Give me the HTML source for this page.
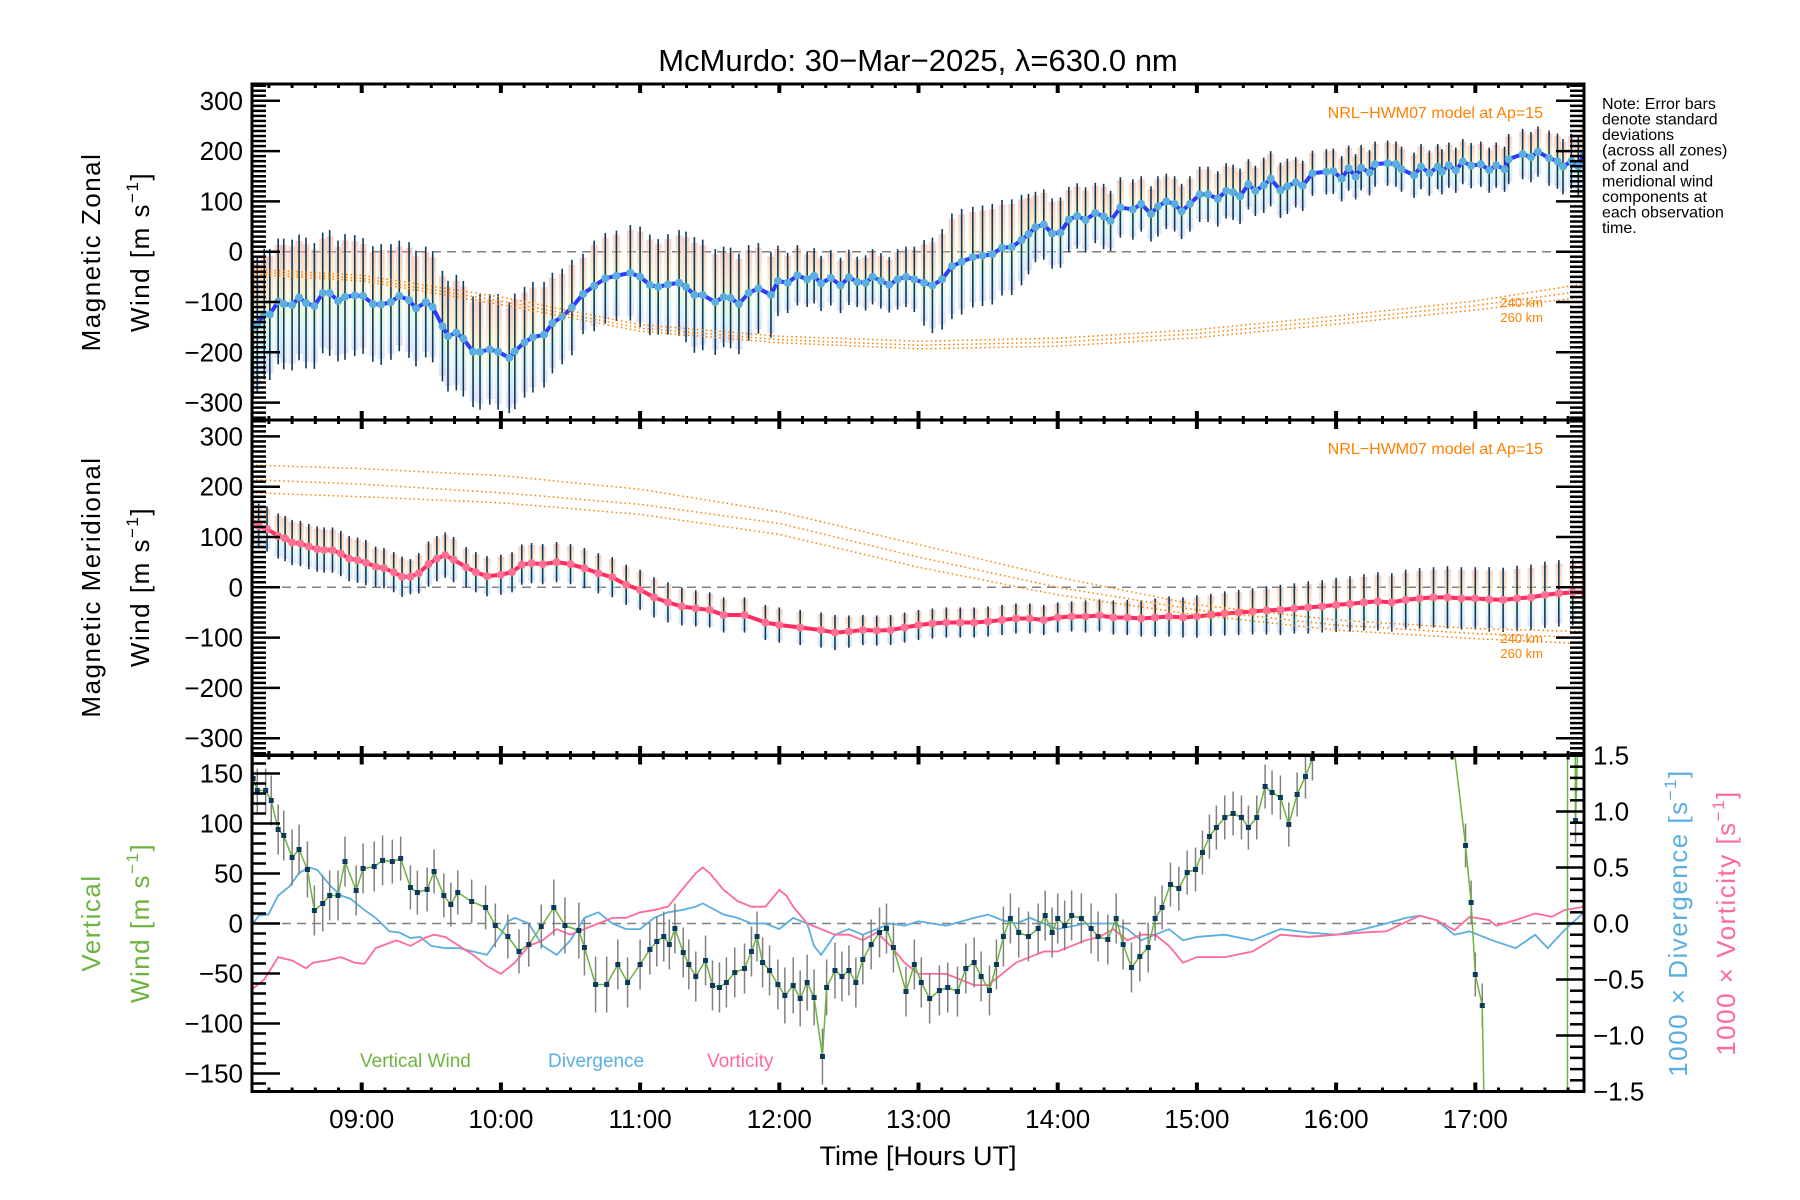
<!DOCTYPE html>
<html><head><meta charset="utf-8"><title>McMurdo winds</title>
<style>
html,body{margin:0;padding:0;background:#fff;width:1800px;height:1200px;overflow:hidden;}
svg{display:block;font-family:"Liberation Sans",sans-serif;}
</style></head>
<body>
<svg id="chart" xmlns="http://www.w3.org/2000/svg" width="1800" height="1200" viewBox="0 0 1800 1200">
<defs>
<linearGradient id="zoneGrad" x1="0" y1="0" x2="0" y2="1">
<stop offset="0" stop-color="#f7a58f"/><stop offset="0.35" stop-color="#fbd99a"/><stop offset="0.55" stop-color="#d8f2b8"/><stop offset="0.75" stop-color="#bfeaf0"/><stop offset="1" stop-color="#c4c2f0"/>
</linearGradient>
<clipPath id="clip1"><rect x="252" y="84" width="1332" height="336"/></clipPath>
<clipPath id="clip2"><rect x="252" y="420" width="1332" height="335"/></clipPath>
<clipPath id="clip3"><rect x="252" y="755.5" width="1332" height="336"/></clipPath>
</defs>
<text x="918" y="71" font-size="31" text-anchor="middle">McMurdo: 30−Mar−2025, λ=630.0 nm</text>
<g id="layer"></g>
<text font-size="16" x="1602">
<tspan x="1602" y="109">Note: Error bars</tspan><tspan x="1602" y="124.5">denote standard</tspan><tspan x="1602" y="140">deviations</tspan><tspan x="1602" y="155.5">(across all zones)</tspan><tspan x="1602" y="171">of zonal and</tspan><tspan x="1602" y="186.5">meridional wind</tspan><tspan x="1602" y="202">components at</tspan><tspan x="1602" y="217.5">each observation</tspan><tspan x="1602" y="233">time.</tspan>
</text>
</svg>
<script>
// ---------- data ----------
const hourTicks = [9,10,11,12,13,14,15,16,17];
const hourLabels = ["09:00","10:00","11:00","12:00","13:00","14:00","15:00","16:00","17:00"];
const windTicks = [-300,-200,-100,0,100,200,300];
const vertTicks = [-150,-100,-50,0,50,100,150];
const ratioTicks = [-1.5,-1.0,-0.5,0.0,0.5,1.0,1.5];

const zonalTimes = [8.22,8.25,8.30,8.34,8.40,8.44,8.50,8.55,8.60,8.66,8.72,8.77,8.83,8.88,8.95,9.01,9.08,9.14,9.21,9.27,9.34,9.39,9.46,9.51,9.58,9.62,9.68,9.73,9.80,9.85,9.92,9.98,10.06,10.10,10.17,10.23,10.31,10.37,10.44,10.51,10.59,10.67,10.75,10.83,10.93,11.00,11.07,11.13,11.20,11.28,11.33,11.39,11.45,11.54,11.60,11.65,11.71,11.78,11.85,11.94,11.99,12.06,12.13,12.20,12.25,12.30,12.37,12.44,12.50,12.56,12.62,12.67,12.73,12.79,12.85,12.91,12.97,13.04,13.10,13.17,13.24,13.31,13.39,13.46,13.53,13.60,13.67,13.74,13.79,13.84,13.90,13.96,14.02,14.08,14.14,14.20,14.27,14.33,14.38,14.45,14.54,14.60,14.67,14.72,14.78,14.84,14.89,14.95,15.02,15.08,15.15,15.21,15.26,15.31,15.37,15.42,15.48,15.53,15.60,15.65,15.71,15.76,15.83,15.93,15.98,16.04,16.09,16.14,16.18,16.24,16.28,16.37,16.43,16.47,16.56,16.61,16.67,16.73,16.76,16.81,16.86,16.91,16.97,17.04,17.10,17.15,17.21,17.24,17.34,17.40,17.45,17.53,17.59,17.63,17.69,17.74,17.78];
const zonalWind = [-149,-144,-124,-125,-99,-104,-106,-91,-102,-108,-82,-82,-98,-90,-87,-88,-104,-105,-100,-88,-96,-113,-100,-110,-148,-168,-161,-173,-199,-199,-194,-199,-211,-198,-180,-170,-165,-142,-129,-111,-84,-68,-53,-48,-42,-50,-66,-70,-65,-62,-70,-86,-86,-100,-90,-92,-104,-82,-73,-86,-58,-62,-47,-55,-48,-63,-52,-67,-51,-60,-62,-50,-58,-66,-55,-50,-55,-62,-67,-55,-29,-20,-11,-8,-5,8,9,23,35,49,54,36,38,64,71,63,77,70,61,88,84,95,75,90,100,95,80,95,114,114,105,121,118,110,134,121,132,145,122,130,138,131,156,159,160,145,166,149,167,157,174,176,174,164,152,169,156,169,159,172,162,179,171,174,162,172,164,184,194,188,199,186,180,169,180,170,195];
const zonalErr = [140,135,130,130,125,130,130,125,130,125,120,125,120,125,120,115,115,120,115,110,115,115,110,110,110,110,115,115,110,115,110,115,110,115,110,110,105,100,95,95,80,90,90,90,95,100,100,95,100,105,110,115,110,105,100,100,100,95,90,85,70,60,60,55,55,55,55,55,55,50,55,55,55,55,60,60,65,85,95,100,105,105,100,100,100,95,95,90,80,70,70,70,70,65,65,65,60,65,60,60,60,55,55,60,55,55,55,55,55,55,55,55,55,55,50,50,55,55,55,55,50,50,45,45,45,45,45,45,45,45,45,45,45,45,45,45,45,45,45,45,45,45,45,45,45,45,45,50,50,50,50,55,55,55,55,60,60,60];

const meridTimes = [8.22,8.26,8.32,8.40,8.45,8.50,8.56,8.62,8.68,8.73,8.79,8.85,8.91,8.97,9.03,9.10,9.16,9.23,9.29,9.35,9.41,9.48,9.54,9.60,9.66,9.75,9.82,9.90,10.00,10.08,10.15,10.22,10.30,10.40,10.50,10.60,10.70,10.80,10.90,11.00,11.10,11.20,11.30,11.40,11.50,11.60,11.75,11.90,12.00,12.15,12.30,12.40,12.50,12.60,12.70,12.80,12.90,13.00,13.10,13.20,13.30,13.40,13.50,13.60,13.70,13.80,13.90,14.00,14.10,14.20,14.30,14.40,14.50,14.60,14.70,14.80,14.90,15.00,15.10,15.20,15.30,15.40,15.50,15.60,15.70,15.80,15.90,16.00,16.10,16.20,16.30,16.40,16.50,16.60,16.70,16.80,16.90,17.00,17.10,17.20,17.30,17.40,17.50,17.60,17.70,17.78];
const meridWind = [127,122,116,102,97,89,87,81,76,74,74,67,57,54,49,41,38,30,21,21,28,46,57,64,55,40,30,22,25,30,45,48,46,50,46,38,28,20,5,-5,-20,-30,-38,-42,-45,-55,-55,-70,-75,-80,-85,-90,-88,-85,-86,-85,-80,-75,-72,-70,-70,-70,-68,-65,-62,-62,-65,-60,-58,-58,-56,-60,-60,-62,-60,-58,-60,-58,-55,-52,-50,-48,-46,-45,-42,-40,-38,-35,-33,-30,-28,-30,-25,-22,-20,-20,-22,-22,-24,-25,-22,-20,-15,-12,-10,-10];
const meridErr = [45,45,45,45,45,45,45,45,45,45,45,45,45,45,45,40,40,40,40,35,40,45,45,45,45,40,40,40,40,40,40,40,40,40,40,40,40,40,40,40,40,40,38,36,35,35,35,35,35,35,35,35,32,30,30,30,30,30,30,30,30,30,30,30,30,30,30,30,30,32,32,34,35,36,38,40,40,42,42,44,45,46,48,50,50,52,52,54,55,56,58,58,60,60,60,62,62,62,64,64,65,65,66,66,66,66];

const modelTimes = [8.21,9,10,11,12,13,14,15,16,17,17.78];
const zonalModelA = [-35,-47,-90,-145,-168,-178,-172,-155,-128,-98,-64];
const zonalModelB = [-40,-53,-98,-152,-175,-186,-180,-163,-136,-107,-78];
const zonalModelC = [-45,-58,-105,-158,-181,-193,-188,-171,-144,-116,-90];
const meridModelA = [243,236,222,195,150,85,20,-35,-65,-82,-88];
const meridModelB = [214,205,188,165,127,60,0,-45,-75,-92,-100];
const meridModelC = [188,180,168,145,105,40,-15,-55,-85,-102,-112];

const vertTimes = [8.22,8.25,8.31,8.35,8.40,8.44,8.50,8.55,8.61,8.66,8.72,8.77,8.83,8.88,8.96,9.01,9.09,9.15,9.22,9.28,9.35,9.40,9.47,9.52,9.59,9.64,9.69,9.79,9.89,9.96,10.05,10.13,10.20,10.29,10.38,10.46,10.56,10.60,10.68,10.76,10.84,10.91,11.00,11.07,11.12,11.17,11.21,11.25,11.31,11.35,11.40,11.47,11.52,11.57,11.62,11.68,11.75,11.80,11.84,11.88,11.93,11.99,12.04,12.10,12.15,12.20,12.25,12.31,12.34,12.40,12.45,12.50,12.55,12.60,12.66,12.72,12.77,12.82,12.91,12.97,13.02,13.08,13.15,13.21,13.28,13.34,13.40,13.45,13.51,13.56,13.61,13.66,13.72,13.79,13.86,13.91,13.96,14.00,14.05,14.10,14.17,14.24,14.29,14.36,14.42,14.47,14.53,14.59,14.65,14.70,14.75,14.81,14.87,14.93,14.99,15.04,15.09,15.14,15.20,15.26,15.32,15.37,15.43,15.49,15.54,15.60,15.66,15.72,15.78,15.83,16.40,16.93,16.97,17.00,17.05,17.30,17.66,17.665,17.72,17.78];
const vertWind = [145,133,133,123,94,88,66,74,54,13,20,28,28,62,33,55,57,63,62,65,36,31,34,52,28,19,31,22,16,-2,-13,-28,-21,-3,16,-2,-7,-24,-61,-61,-41,-59,-41,-26,-18,-13,-21,-5,-29,-41,-53,-37,-62,-64,-59,-49,-45,-28,-13,-39,-47,-61,-72,-62,-75,-59,-74,-133,-64,-47,-53,-47,-59,-36,-21,-9,-5,-24,-68,-41,-59,-75,-67,-64,-68,-45,-39,-53,-67,-41,-13,5,-9,-13,-5,8,-9,5,-2,8,5,-5,-13,-16,5,-21,-44,-33,-24,5,16,39,35,51,54,71,87,96,106,110,106,96,106,137,131,126,99,129,147,165,700,78,21,-51,-82,-2000,-2000,2000,103,400];
const vertErr = [25,22,22,25,25,25,28,25,28,25,28,25,25,25,25,25,25,25,22,22,22,22,22,22,22,22,22,22,22,22,22,22,22,22,28,28,28,28,28,28,25,25,25,25,25,25,25,25,25,25,25,25,25,25,25,25,25,25,25,25,25,25,28,28,28,28,28,28,28,28,25,25,25,25,25,25,25,25,25,25,25,25,25,25,25,25,25,25,25,25,30,25,25,25,25,25,25,25,25,25,25,25,25,25,25,25,25,25,25,22,22,22,22,22,22,22,22,22,22,22,22,22,22,22,22,22,22,22,22,22,0,22,22,22,22,0,0,0,22,0];

const divTimes = [8.22,8.26,8.33,8.40,8.48,8.55,8.62,8.68,8.78,8.85,8.92,9.02,9.10,9.20,9.27,9.35,9.42,9.50,9.60,9.70,9.80,9.90,10.00,10.05,10.10,10.20,10.30,10.40,10.50,10.60,10.70,10.80,10.90,11.00,11.10,11.20,11.30,11.40,11.45,11.60,11.70,11.80,11.90,12.00,12.10,12.20,12.25,12.30,12.40,12.50,12.60,12.70,12.80,12.90,13.00,13.20,13.40,13.50,13.60,13.70,13.80,13.90,14.00,14.20,14.40,14.50,14.60,14.70,14.80,14.90,15.00,15.20,15.40,15.50,15.60,15.80,16.00,16.20,16.36,16.50,16.60,16.72,16.85,16.96,17.12,17.29,17.43,17.52,17.64,17.78];
const divergence = [0.0,0.07,0.08,0.25,0.33,0.45,0.50,0.48,0.33,0.25,0.22,0.12,0.05,-0.07,-0.08,-0.13,-0.12,-0.2,-0.22,-0.22,-0.25,-0.28,-0.1,0.02,0.05,0.0,-0.2,-0.28,-0.15,0.05,0.1,0.0,-0.05,-0.05,0.05,0.1,0.12,0.15,0.18,0.08,0.05,0.0,0.0,-0.05,0.05,0.0,-0.2,-0.28,-0.1,-0.05,-0.1,-0.05,0.0,-0.02,0.02,-0.02,0.05,0.08,0.03,0.0,0.05,0.0,-0.05,0.0,0.0,-0.05,-0.15,-0.1,-0.05,-0.15,-0.12,-0.1,-0.15,-0.1,-0.05,-0.08,-0.1,-0.05,0.0,0.05,0.07,0.03,-0.1,-0.07,-0.15,-0.22,-0.1,-0.22,-0.06,0.1];
const vortTimes = [8.22,8.30,8.40,8.50,8.60,8.65,8.75,8.85,8.95,9.02,9.10,9.25,9.35,9.45,9.52,9.60,9.70,9.80,9.90,10.00,10.10,10.20,10.30,10.40,10.50,10.60,10.70,10.80,10.90,11.00,11.10,11.20,11.30,11.40,11.45,11.50,11.60,11.70,11.80,11.90,12.00,12.05,12.10,12.20,12.30,12.40,12.50,12.60,12.70,12.80,12.90,13.00,13.20,13.30,13.40,13.50,13.60,13.70,13.80,13.90,14.00,14.10,14.20,14.30,14.40,14.50,14.60,14.70,14.80,14.90,15.00,15.20,15.40,15.60,15.80,16.00,16.20,16.36,16.60,16.72,16.85,16.96,17.10,17.15,17.29,17.43,17.55,17.64,17.78];
const vorticity = [-0.58,-0.5,-0.3,-0.33,-0.4,-0.35,-0.33,-0.3,-0.35,-0.36,-0.22,-0.15,-0.2,-0.13,-0.1,-0.12,-0.2,-0.28,-0.38,-0.45,-0.35,-0.2,-0.15,-0.05,-0.1,-0.05,0.0,0.05,0.05,0.1,0.12,0.15,0.3,0.45,0.5,0.45,0.3,0.2,0.15,0.15,0.3,0.25,0.15,0.0,-0.05,-0.1,-0.1,-0.15,-0.08,-0.2,-0.35,-0.45,-0.45,-0.5,-0.55,-0.55,-0.45,-0.35,-0.3,-0.25,-0.25,-0.2,-0.15,-0.12,-0.05,-0.15,-0.1,-0.1,-0.2,-0.35,-0.3,-0.3,-0.25,-0.1,-0.12,-0.1,-0.08,-0.07,0.07,0.03,-0.06,0.06,0.03,-0.02,0.03,0.09,0.06,0.12,0.15];

// ---------- scales ----------
const L = 252, R = 1584;
function xs(t){ return 361.7 + (t - 9) * 139.2; }
function y1(v){ return 251.7 - v * 0.503; }
function y2(v){ return 587.3 - v * 0.503; }
function yV(v){ return 923.5 - v * 1.0; }
function yR(v){ return 923.5 - v * 112; }

const NS = "http://www.w3.org/2000/svg";
const layer = document.getElementById('layer');
function mk(tag, attrs, parent){
  const e = document.createElementNS(NS, tag);
  for (const k in attrs) e.setAttribute(k, attrs[k]);
  (parent || layer).appendChild(e);
  return e;
}
function fmtNum(v, dec){ const s = Math.abs(v).toFixed(dec); return (v < 0 ? "−" : "") + s; }

const panels = [
  {top:84, bot:420, clip:'clip1', ys:y1, name:'zonal'},
  {top:420, bot:755, clip:'clip2', ys:y2, name:'meridional'},
  {top:755.5, bot:1091.5, clip:'clip3', ys:yV, name:'vertical'}
];

function modelLine(times, vals, ys, clip, name){
  const pts = times.map((t,i)=> xs(t)+','+ys(vals[i])).join(' ');
  const e = mk('polyline', {points:pts, fill:'none', stroke:'#ff8000', 'stroke-width':'1.5', 'stroke-dasharray':'1.5 3', 'clip-path':'url(#'+clip+')'});
  
  
}
function windPanel(times, vals, errs, ys, clip, lineColor, dotColor, prefix){
  const g = mk('g', {'clip-path':'url(#'+clip+')'});
  
  
  times.forEach((t,i)=>{
    const e = errs[i] || 60, v = vals[i], x = xs(t);
    const r = mk('rect', {x:x-3.5, y:ys(v+e*0.9), width:7, height:ys(v-e*0.9)-ys(v+e*0.9), fill:'url(#zoneGrad)', opacity:'0.5'}, g);
    
    
  });
  times.forEach((t,i)=>{
    const e = errs[i] || 60, v = vals[i], x = xs(t);
    const l = mk('line', {x1:x, x2:x, y1:ys(v+e), y2:ys(v-e), stroke:'#0b3a5c', 'stroke-width':'1.6'}, g);
    
    
  });
  const pl = mk('polyline', {points: times.map((t,i)=>xs(t)+','+ys(vals[i])).join(' '), fill:'none', stroke:lineColor, 'stroke-width':'4', 'stroke-linejoin':'round'}, g);
  
  
  times.forEach((t,i)=>{
    const c = mk('circle', {cx:xs(t), cy:ys(vals[i]), r:4, fill:dotColor}, g);
    
    
  });
}

panels.forEach(p=>{
  const z = mk('line', {x1:L, x2:R, y1:p.ys(0), y2:p.ys(0), stroke:'#808080', 'stroke-width':'1.5', 'stroke-dasharray':'9 6'});
  
  
});

windPanel(zonalTimes, zonalWind, zonalErr, y1, 'clip1', '#2b3bff', '#5aaee0', 'zonal');
modelLine(modelTimes, zonalModelA, y1, 'clip1', 'zonal-model-a');
modelLine(modelTimes, zonalModelB, y1, 'clip1', 'zonal-model-b');
modelLine(modelTimes, zonalModelC, y1, 'clip1', 'zonal-model-c');
windPanel(meridTimes, meridWind, meridErr, y2, 'clip2', '#ff2d5f', '#ff7096', 'meridional');
modelLine(modelTimes, meridModelA, y2, 'clip2', 'meridional-model-a');
modelLine(modelTimes, meridModelB, y2, 'clip2', 'meridional-model-b');
modelLine(modelTimes, meridModelC, y2, 'clip2', 'meridional-model-c');

// clip a polyline (in pixel coords) to vertical bounds, returning path d
function clippedPath(px, py, top, bot){
  let d = '';
  for (let i = 0; i < px.length - 1; i++){
    let xa = px[i], ya = py[i], xb = px[i+1], yb = py[i+1];
    if ((ya < top && yb < top) || (ya > bot && yb > bot)) continue;
    const cl = (x0,y0,x1,y1)=>{
      let X = x0, Y = y0;
      if (y0 < top){ X = x0 + (x1-x0)*(top-y0)/(y1-y0); Y = top; }
      else if (y0 > bot){ X = x0 + (x1-x0)*(bot-y0)/(y1-y0); Y = bot; }
      return [X,Y];
    };
    const A = cl(xa,ya,xb,yb), B = cl(xb,yb,xa,ya);
    d += 'M' + A[0].toFixed(2) + ',' + A[1].toFixed(2) + 'L' + B[0].toFixed(2) + ',' + B[1].toFixed(2);
  }
  return d;
}

{
  const top = 755.5, bot = 1091.5;
  const g = mk('g', {'clip-path':'url(#clip3)'});
  
  
  const dl = mk('polyline', {points: divTimes.map((t,i)=>xs(t)+','+yR(divergence[i])).join(' '), fill:'none', stroke:'#5aafe0', 'stroke-width':'1.8'}, g);
  
  
  const vl = mk('polyline', {points: vortTimes.map((t,i)=>xs(t)+','+yR(vorticity[i])).join(' '), fill:'none', stroke:'#ff6a9a', 'stroke-width':'1.8'}, g);
  
  
  vertTimes.forEach((t,i)=>{
    const e = vertErr[i];
    const y = yV(vertWind[i]);
    if (!e || y < top || y > bot) return;
    const l = mk('line', {x1:xs(t), x2:xs(t), y1:Math.max(top, yV(vertWind[i]+e)), y2:Math.min(bot, yV(vertWind[i]-e)), stroke:'#808080', 'stroke-width':'1.5'}, g);
    
    
  });
  const wl = mk('path', {d: clippedPath(vertTimes.map(xs), vertWind.map(yV), top, bot), fill:'none', stroke:'#6db33f', 'stroke-width':'1.5'}, g);
  
  
  vertTimes.forEach((t,i)=>{
    const y = yV(vertWind[i]);
    if (y < top || y > bot) return;
    const r = mk('rect', {x:xs(t)-2.5, y:y-2.5, width:5, height:5, fill:'#0b3a5c'}, g);
    
    
  });
}

panels.forEach((p, pi)=>{
  const fr = mk('rect', {x:L, y:p.top, width:R-L, height:p.bot-p.top, fill:'none', stroke:'#000', 'stroke-width':'3'});
  
  
  for (let m = 0; m <= 600; m += 10){
    const t = 8 + m/60;
    const x = xs(t);
    if (x < L+2 || x > R-2) continue;
    const major = (m % 60 === 0);
    const len = major ? 9 : 4;
    const w = major ? 4 : 3;
    const tb = mk('line', {x1:x, x2:x, y1:p.bot, y2:p.bot-len, stroke:'#000', 'stroke-width':w});
    
    
    const tt = mk('line', {x1:x, x2:x, y1:p.top, y2:p.top+len, stroke:'#000', 'stroke-width':w});
    
    
  }
});

[0,1].forEach(pi=>{
  const p = panels[pi];
  for (let v = -330; v <= 330; v += 10){
    const y = p.ys(v);
    if (y < p.top+1 || y > p.bot-1) continue;
    const major = (v % 100 === 0);
    const len = major ? 28 : 14;
    const a = mk('line', {x1:L, x2:L+len, y1:y, y2:y, stroke:'#000', 'stroke-width':'2.5'});
    
    
    const b = mk('line', {x1:R, x2:R-len, y1:y, y2:y, stroke:'#000', 'stroke-width':'2.5'});
    
    
  }
  windTicks.forEach(v=>{
    const t = mk('text', {x:243, y:p.ys(v)+9, 'font-size':'26', 'text-anchor':'end'});
    t.textContent = fmtNum(v,0);
    
    
  });
});
{
  for (let v = -160; v <= 160; v += 10){
    const y = yV(v);
    const major = (v % 50 === 0);
    const a = mk('line', {x1:L, x2:L+(major?28:14), y1:y, y2:y, stroke:'#000', 'stroke-width':'2.5'});
    
    
  }
  for (let k = -14; k <= 14; k++){
    const y = yR(k/10);
    const major = (k % 5 === 0);
    const b = mk('line', {x1:R, x2:R-(major?28:14), y1:y, y2:y, stroke:'#000', 'stroke-width':'2.5'});
    
    
  }
  vertTicks.forEach(v=>{
    const t = mk('text', {x:243, y:yV(v)+9, 'font-size':'26', 'text-anchor':'end'});
    t.textContent = fmtNum(v,0);
    
    
  });
  ratioTicks.forEach(v=>{
    const t = mk('text', {x:1593, y:yR(v)+9, 'font-size':'26', 'text-anchor':'start'});
    t.textContent = fmtNum(v,1);
    
    
  });
}
hourTicks.forEach((h,i)=>{
  const t = mk('text', {x:xs(h), y:1128, 'font-size':'26', 'text-anchor':'middle'});
  t.textContent = hourLabels[i];
  
  
});
{
  const t = mk('text', {x:918, y:1165, 'font-size':'27', 'text-anchor':'middle'});
  t.textContent = 'Time [Hours UT]';
  
  
}

function rotTitle(x, y, lines, color, name, size){
  const t = mk('text', {transform:'translate('+x+','+y+') rotate(-90)', 'font-size':size||26, 'text-anchor':'middle', fill:color, 'letter-spacing':'1.5'});
  
  
  t.innerHTML = lines;
}
const unit = 'Wind [m s<tspan font-size="17" dy="-11">−1</tspan><tspan dy="11">]</tspan>';
rotTitle(100, 252, 'Magnetic Zonal', '#000', 'zonal-y-title-line1');
rotTitle(149, 252, unit, '#000', 'zonal-y-title-line2');
rotTitle(100, 587, 'Magnetic Meridional', '#000', 'meridional-y-title-line1');
rotTitle(149, 587, unit, '#000', 'meridional-y-title-line2');
rotTitle(100, 923, 'Vertical', '#6db33f', 'vertical-y-title-line1');
rotTitle(149, 923, unit, '#6db33f', 'vertical-y-title-line2');
rotTitle(1687, 923, '1000 × Divergence [s<tspan font-size="17" dy="-11">−1</tspan><tspan dy="11">]</tspan>', '#5aafe0', 'divergence-y-title');
rotTitle(1735, 923, '1000 × Vorticity [s<tspan font-size="17" dy="-11">−1</tspan><tspan dy="11">]</tspan>', '#ff6a9a', 'vorticity-y-title');

[[0,'zonal'],[1,'meridional']].forEach(([pi,nm])=>{
  const off = pi === 0 ? 0 : 336;
  const a = mk('text', {x:1543, y:118+off, 'font-size':'16', fill:'#ff8000', 'text-anchor':'end'});
  a.textContent = 'NRL−HWM07 model at Ap=15';
  
  
  const b = mk('text', {x:1543, y:307+off, 'font-size':'13', fill:'#ff8000', 'text-anchor':'end'});
  b.textContent = '240 km';
  
  
  const c = mk('text', {x:1543, y:322+off, 'font-size':'13', fill:'#ff8000', 'text-anchor':'end'});
  c.textContent = '260 km';
  
  
});

[['Vertical Wind','#6db33f',360,'legend-vertical-wind'],['Divergence','#5aafe0',548,'legend-divergence'],['Vorticity','#ff6a9a',707,'legend-vorticity']].forEach(d=>{
  const t = mk('text', {x:d[2], y:1067, 'font-size':'19', fill:d[1]});
  t.textContent = d[0];
  
  
});
</script>
</body></html>
